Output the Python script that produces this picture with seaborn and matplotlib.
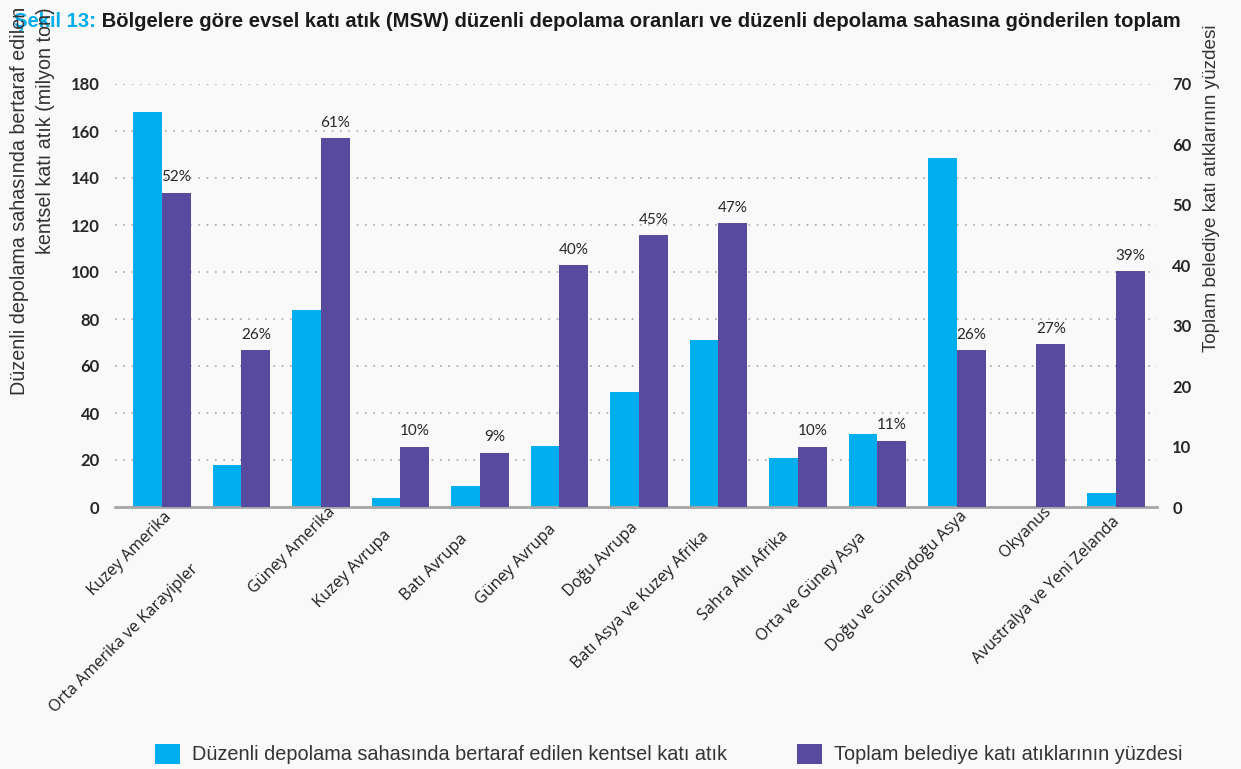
import matplotlib
matplotlib.use("Agg")
import matplotlib.pyplot as plt
from matplotlib.patches import Patch
from matplotlib.transforms import ScaledTranslation
import pandas as pd
import seaborn as sns

# --- data -----------------------------------------------------------------
regions = [
    "Kuzey Amerika", "Orta Amerika ve Karayipler", "Güney Amerika",
    "Kuzey Avrupa", "Batı Avrupa", "Güney Avrupa", "Doğu Avrupa",
    "Batı Asya ve Kuzey Afrika", "Sahra Altı Afrika", "Orta ve Güney Asya",
    "Doğu ve Güneydoğu Asya", "Okyanus", "Avustralya ve Yeni Zelanda",
]
landfill_mt = [168, 18, 84, 4, 9, 26, 49, 71, 21, 31, 148.5, 0, 6]
landfill_pct = [52, 26, 61, 10, 9, 40, 45, 47, 10, 11, 26, 27, 39]
left_ticks = [0, 20, 40, 60, 80, 100, 120, 140, 160, 180]
right_ticks = [0, 10, 20, 30, 40, 50, 60, 70]

series_mt = "Düzenli depolama sahasında bertaraf edilen kentsel katı atık"
series_pct = "Toplam belediye katı atıklarının yüzdesi"
title_lead = "Şekil 13:"
title_rest = (" Bölgelere göre evsel katı atık (MSW) düzenli depolama oranları "
              "ve düzenli depolama sahasına gönderilen toplam")
ylabel_left = ["Düzenli depolama sahasında bertaraf edilen",
               "kentsel katı atık (milyon ton)"]
ylabel_right = "Toplam belediye katı atıklarının yüzdesi"

# --- style ----------------------------------------------------------------
BLUE = "#00AEEF"
PURPLE = "#574A9F"
BG = "#F9F9F9"
INK = "#262626"
W, H, DPI = 1241, 769, 100

sns.set_style("white")
plt.rcParams["font.family"] = ["Liberation Sans", "DejaVu Sans"]

fig = plt.figure(figsize=(W / DPI, H / DPI), dpi=DPI, facecolor=BG)
renderer = fig.canvas.get_renderer()


def px_x(x):
    return x / W


def px_y(y):
    return 1 - y / H


def fitted_size(s, target_px, **kw):
    t = fig.text(0, 0, s, fontsize=20, **kw)
    w = t.get_window_extent(renderer).width
    t.remove()
    return 20 * target_px / w


ax_left, ax_right, ax_top, ax_bottom = 115, 1157, 84, 507
ax = fig.add_axes([px_x(ax_left), px_y(ax_bottom),
                   (ax_right - ax_left) / W, (ax_bottom - ax_top) / H])
ax.set_facecolor(BG)
ax2 = ax.twinx()
ax2.patch.set_alpha(0)

df_mt = pd.DataFrame({"Bölge": regions, "Seri": series_mt, "Değer": landfill_mt})
df_pct = pd.DataFrame({"Bölge": regions, "Seri": series_pct, "Değer": landfill_pct})
hue_order = [series_mt, series_pct]
palette = {series_mt: BLUE, series_pct: PURPLE}

sns.barplot(data=df_mt, x="Bölge", y="Değer", hue="Seri", hue_order=hue_order,
            order=regions, palette=palette, dodge=True, width=0.72,
            saturation=1, linewidth=0, legend=False, errorbar=None, ax=ax)
sns.barplot(data=df_pct, x="Bölge", y="Değer", hue="Seri", hue_order=hue_order,
            order=regions, palette=palette, dodge=True, width=0.72,
            saturation=1, linewidth=0, legend=False, errorbar=None, ax=ax2)

# value labels above the percentage bars
for cont in ax2.containers:
    if len(cont) == len(regions):
        ax2.bar_label(cont, labels=[f"{v}%" for v in landfill_pct], padding=6,
                      fontsize=11, color=INK, family=["Lato", "DejaVu Sans"])

# --- axes -----------------------------------------------------------------
ax.set_xlim(-0.591, 12.516)
ax2.set_xlim(-0.591, 12.516)
ax.set_ylim(0, 180)
ax2.set_ylim(0, 70)
ax.set_yticks(left_ticks)
ax2.set_yticks(right_ticks)
ax.set_ylabel("")
ax2.set_ylabel("")
ax.set_xlabel("")
ax2.set_xlabel("")

tick_font = dict(family=["Lato", "DejaVu Sans"], weight="bold", size=12)
ax.set_yticklabels([str(v) for v in left_ticks], color=INK, **tick_font)
ax2.set_yticklabels([str(v) for v in right_ticks], color=INK, **tick_font)
ax.tick_params(axis="y", length=0, pad=11)
ax2.tick_params(axis="y", length=0, pad=11)

ax.grid(axis="y", linestyle=(0, (1, 4)), linewidth=1.2, color="#A8A8A8")
ax.grid(axis="x", visible=False)
ax2.grid(False)
ax.set_axisbelow(True)

for a in (ax, ax2):
    for side in ("top", "left", "right", "bottom"):
        a.spines[side].set_visible(False)
ax.spines["bottom"].set_visible(True)
ax.spines["bottom"].set_color("#A6A6A6")
ax.spines["bottom"].set_linewidth(2)

# category labels, rotated and nudged along their own direction
label_shift = [0, 52, -5, 18, 22, 12, 10, 19, 19, 20, -1, -6, 5]
ax.set_xticks(range(len(regions)))
ax.set_xticklabels(regions, family=["Open Sans", "DejaVu Sans"], size=11.6,
                   color="#1E1E1E")
ax.tick_params(axis="x", length=0, pad=0)
ax2.tick_params(axis="x", length=0, labelbottom=False)
for lab, d in zip(ax.get_xticklabels(), label_shift):
    lab.set_rotation(45)
    lab.set_rotation_mode("anchor")
    lab.set_ha("right")
    lab.set_va("top")
    lab.set_transform(lab.get_transform() +
                      ScaledTranslation((1 - d) / DPI, -(2 + d) / DPI,
                                        fig.dpi_scale_trans))

# --- title ----------------------------------------------------------------
title_kw = dict(family=["Liberation Sans", "DejaVu Sans"], weight="bold")
tsize = fitted_size(title_lead + title_rest, 1165, **title_kw)
t_lead = fig.text(px_x(14), px_y(27), title_lead, color=BLUE, fontsize=tsize,
                  va="baseline", ha="left", **title_kw)
lead_w = t_lead.get_window_extent(renderer).width
fig.text(px_x(14 + lead_w), px_y(27), title_rest, color="#1A1A1A",
         fontsize=tsize, va="baseline", ha="left", **title_kw)

# --- axis titles ----------------------------------------------------------
lab_kw = dict(family=["Liberation Sans", "DejaVu Sans"])
ysize = fitted_size(ylabel_left[0], 385, **lab_kw)
fig.text(px_x(20), px_y(7), ylabel_left[0], rotation=90, rotation_mode="anchor",
         ha="right", va="center", fontsize=ysize, color="#333333", **lab_kw)
fig.text(px_x(46), px_y(7), ylabel_left[1], rotation=90, rotation_mode="anchor",
         ha="right", va="center", fontsize=ysize, color="#333333", **lab_kw)
rsize = fitted_size(ylabel_right, 330, **lab_kw)
fig.text(px_x(1212), px_y(188), ylabel_right, rotation=90,
         rotation_mode="anchor", ha="center", va="center", fontsize=rsize,
         color="#333333", **lab_kw)

# --- legend ---------------------------------------------------------------
leg_size = fitted_size(series_mt, 532, **lab_kw)
fs_px = leg_size * DPI / 72
handles = [Patch(facecolor=BLUE, edgecolor="none"),
           Patch(facecolor=PURPLE, edgecolor="none")]
fig.legend(handles, [series_mt, series_pct], loc="center left",
           bbox_to_anchor=(px_x(155), px_y(754)), ncol=2, frameon=False,
           borderpad=0, borderaxespad=0, handlelength=25 / fs_px,
           handleheight=24 / fs_px, handletextpad=12 / fs_px,
           columnspacing=70 / fs_px,
           prop=dict(family=["Liberation Sans", "DejaVu Sans"], size=leg_size),
           labelcolor="#333333")

fig.savefig("out.png", dpi=DPI, facecolor=BG)
